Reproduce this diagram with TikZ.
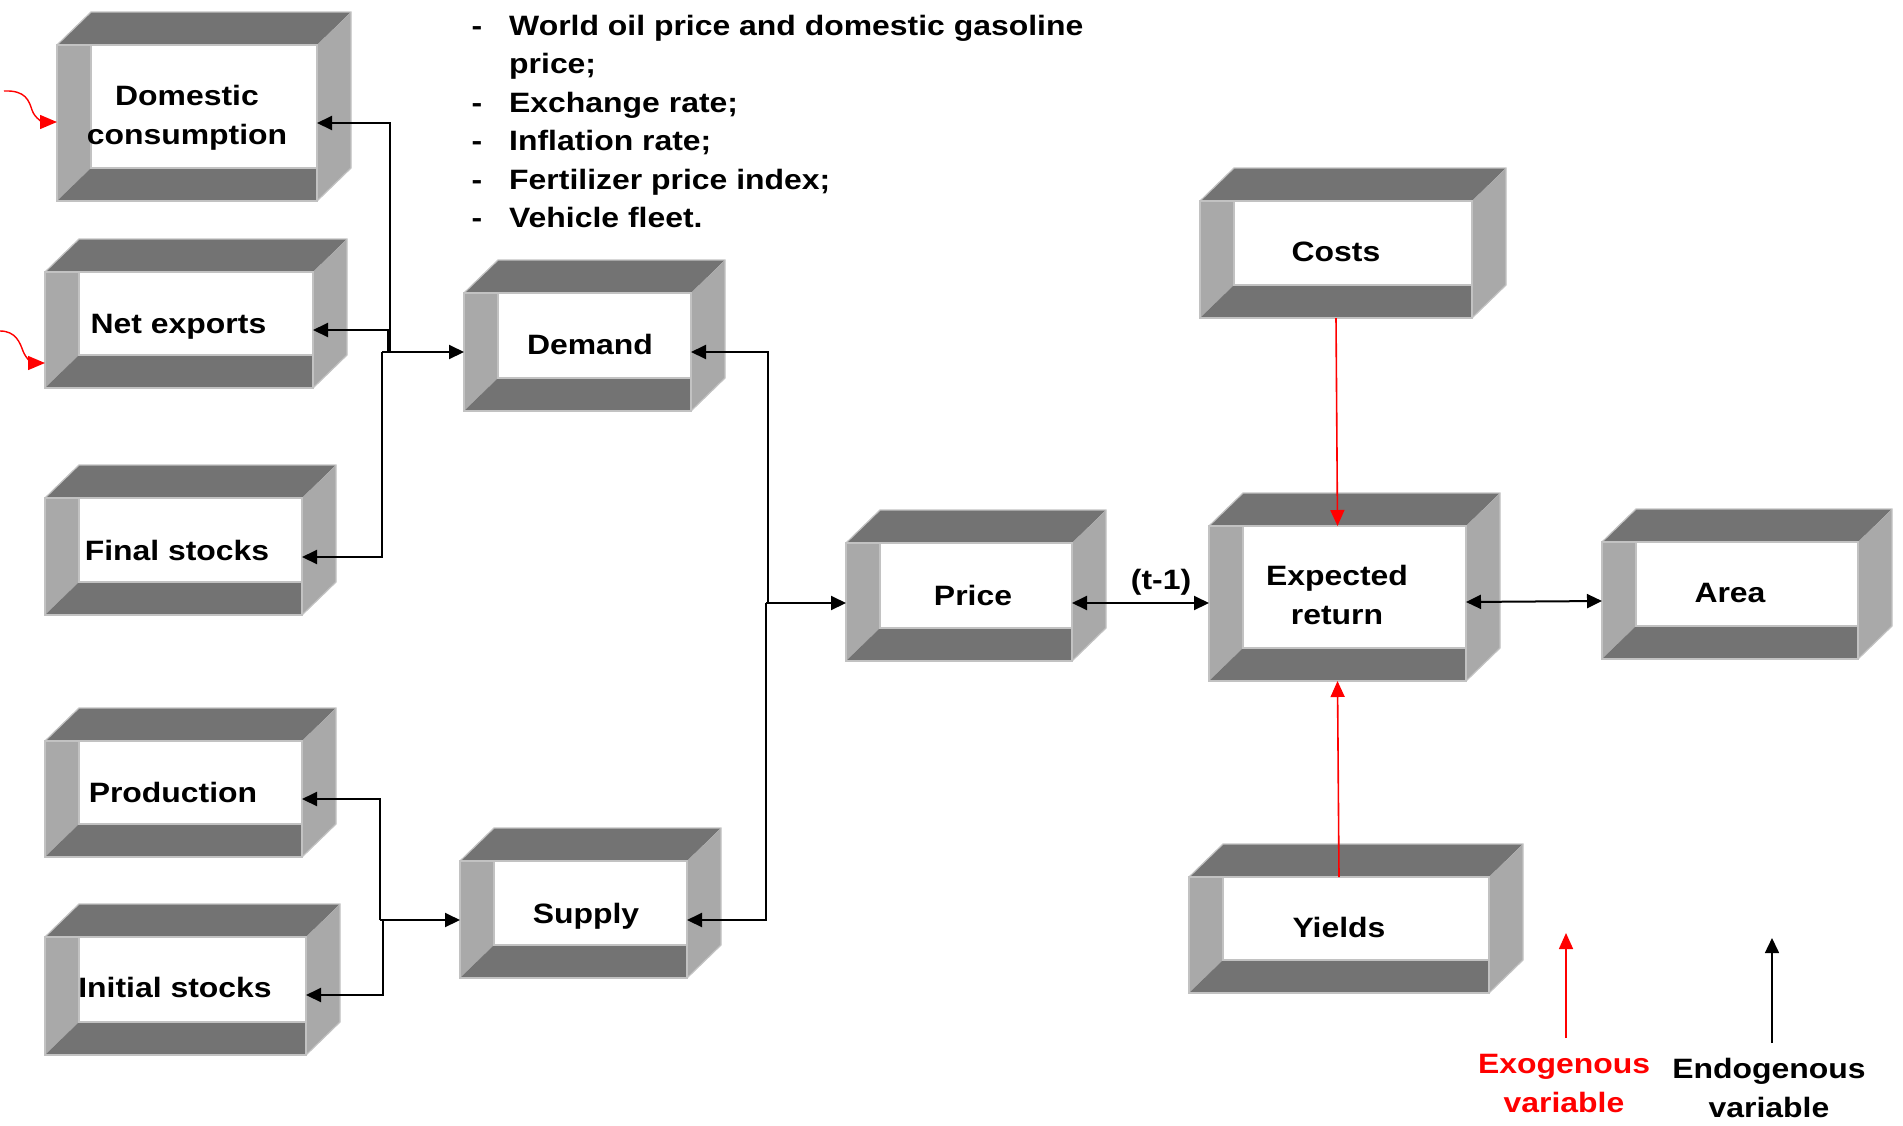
\documentclass[tikz,border=0pt]{standalone}
\usepackage{fontspec}
\setmainfont{Liberation Sans}[FakeStretch=1.14]
\usetikzlibrary{arrows.meta,fit,calc}
\definecolor{dkg}{HTML}{737373}
\definecolor{ltg}{HTML}{A9A9A9}
\definecolor{edg}{HTML}{C2C2C2}
\definecolor{myred}{HTML}{FF0000}
\tikzset{
  lbl/.style={inner sep=0pt, anchor=base, font=\fontsize{28}{37}\selectfont\bfseries},
  lstl/.style={inner sep=0pt, anchor=base west, font=\fontsize{28}{37}\selectfont\bfseries},
  arr/.style={draw=black, line width=2pt, -{Triangle[length=15pt,width=14pt]}},
  darr/.style={draw=black, line width=2pt, {Triangle[length=15pt,width=14pt]}-{Triangle[length=15pt,width=14pt]}},
  redarr/.style={draw=myred, line width=1.6pt, -{Triangle[length=16pt,width=14pt]}},
  wavearr/.style={draw=myred, line width=1.4pt, -{Triangle[length=17pt,width=14pt]}},
  facebox/.style={inner sep=0pt, outer sep=0pt}
}
\newcommand\cubebox[5]{%
  \fill[dkg] (#2,#3) -- (#2+34,#3-33) -- (#4+34,#3-33) -- (#4,#3) -- cycle;
  \fill[ltg] (#4,#3) -- (#4+34,#3-33) -- (#4+34,#5-33) -- (#4,#5) -- cycle;
  \fill[ltg] (#2,#3) -- (#2+34,#3) -- (#2+34,#5-33) -- (#2,#5) -- cycle;
  \fill[dkg] (#2,#5) -- (#2+34,#5-33) -- (#4,#5-33) -- (#4,#5) -- cycle;
  \fill[white] (#2+34,#3) rectangle (#4,#5-33);
  \draw[edg, line width=1.5pt] (#2,#3) rectangle (#4,#5);
  \draw[edg, line width=1.2pt] (#2+34,#3) rectangle (#4,#5-33);
  \draw[edg, line width=1.2pt] (#2,#3) -- (#2+34,#3-33) -- (#4+34,#3-33) -- (#4+34,#5-33) -- (#4,#5);
  \coordinate (#1-nw) at (#2,#3);
  \coordinate (#1-se) at (#4,#5);
  \node[facebox, fit=(#1-nw)(#1-se)] (#1) {};
}
\begin{document}
\begin{tikzpicture}[x=1pt,y=-1pt]
\useasboundingbox (0,0) rectangle (1903,1125);

% boxes
\cubebox{dom}{57}{45}{317}{201}
\cubebox{net}{45}{272}{313}{388}
\cubebox{fin}{45}{498}{302}{615}
\cubebox{pro}{45}{741}{302}{857}
\cubebox{ini}{45}{937}{306}{1055}
\cubebox{dem}{464}{293}{691}{411}
\cubebox{sup}{460}{861}{687}{978}
\cubebox{pri}{846}{543}{1072}{661}
\cubebox{cos}{1200}{201}{1472}{318}
\cubebox{exp}{1209}{526}{1466}{681}
\cubebox{are}{1602}{542}{1858}{659}
\cubebox{yie}{1189}{877}{1489}{993}

% labels
\node[lbl] (domA) at (187,105.7) {Domestic};
\node[lbl] (domB) at (187,144) {consumption};
\node[lbl] (netL) at (178.5,333) {Net exports};
\node[lbl] (finL) at (177,560) {Final stocks};
\node[lbl] (proL) at (173,802) {Production};
\node[lbl] (iniL) at (175,997) {Initial stocks};
\node[lbl] (demL) at (590,354) {Demand};
\node[lbl] (supL) at (586,923) {Supply};
\node[lbl] (priL) at (973,605) {Price};
\node[lbl] (cosL) at (1336,261) {Costs};
\node[lbl] (expA) at (1337,585.5) {Expected};
\node[lbl] (expB) at (1337,624) {return};
\node[lbl] (areL) at (1730,602) {Area};
\node[lbl] (yieL) at (1339,937) {Yields};
\node[lbl] (tm1) at (1161,589) {(t-1)};

% list of exogenous drivers
\node[lbl] (d1) at (477,35) {-};
\node[lstl] (t1) at (509,35) {World oil price and domestic gasoline};
\node[lstl] (t1b) at (509,73.5) {price;};
\node[lbl] (d2) at (477,112) {-};
\node[lstl] (t2) at (509,112) {Exchange rate;};
\node[lbl] (d3) at (477,150.5) {-};
\node[lstl] (t3) at (509,150.5) {Inflation rate;};
\node[lbl] (d4) at (477,189) {-};
\node[lstl] (t4) at (509,189) {Fertilizer price index;};
\node[lbl] (d5) at (477,227.5) {-};
\node[lstl] (t5) at (509,227.5) {Vehicle fleet.};

% demand side connectors
\coordinate (jd) at (382,352);
\coordinate (jdom) at (390,352);
\coordinate (jnet) at (388,352);
\draw[arr] (jd) -- (dem.west |- jd);
\draw[arr] (jdom) |- (dom.east |- 0,123);
\draw[arr] (jnet) |- (net.east |- 0,330);
\draw[arr] (jd) |- (fin.east |- 0,557);

% supply side connectors
\coordinate (js) at (380,920);
\coordinate (js2) at (383,920);
\draw[arr] (js) -- (sup.west |- js);
\draw[arr] (js) |- (pro.east |- 0,799);
\draw[arr] (js2) |- (ini.east |- 0,995);

% price connectors
\coordinate (jp) at (766,603);
\coordinate (jpd) at (768,603);
\draw[arr] (jp) -- (pri.west |- jp);
\draw[arr] (jpd) |- (dem.east |- 0,352);
\draw[arr] (jp) |- (sup.east |- 0,920);
\draw[darr] (pri.east |- jp) -- (exp.west |- jp);
\draw[darr] (exp.east |- 0,602) -- (are.west |- 0,601);

% exogenous red arrows
\draw[redarr] (cos.south) -- (exp.north);
\draw[redarr] (yie.north) -- (exp.south);

\coordinate (wd) at (4,91);
\coordinate (wn) at (0,331);
\draw[wavearr] (wd) .. controls (26,90) and (29,101) .. (32,110) .. controls (35,119) and (44,122) .. (dom.west |- 0,122);
\draw[wavearr] (wn) .. controls (16,331) and (20,343) .. (23,351) .. controls (26,359) and (33,363) .. (net.west |- 0,363);

% legend
\coordinate (exoT) at (1566,1038);
\coordinate (exoH) at (1566,933);
\coordinate (endT) at (1772,1043);
\coordinate (endH) at (1772,938);
\draw[redarr] (exoT) -- (exoH);
\draw[arr, line width=1.6pt] (endT) -- (endH);
\node[lbl, text=myred] (exoA) at (1564,1073) {Exogenous};
\node[lbl, text=myred] (exoB) at (1564,1112) {variable};
\node[lbl] (endA) at (1769,1078) {Endogenous};
\node[lbl] (endB) at (1769,1117) {variable};
\end{tikzpicture}
\end{document}
